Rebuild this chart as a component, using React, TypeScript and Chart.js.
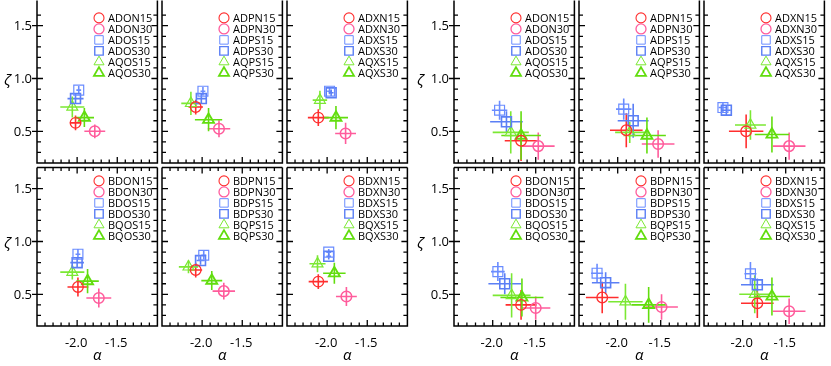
import React, { useEffect, useRef } from 'react';
import { Chart, registerables } from 'chart.js';
import { drawPoint } from 'chart.js/helpers';

Chart.register(...registerables);

// ---------------- data ----------------
const ALPHA_RANGE_LEFT = [-2.5, -1.0];
const ALPHA_RANGE_RIGHT = [-2.45, -1.05];
const ZETA_RANGE = [0.2, 1.7];
const ALPHA_TICK_LABELS = [-2.0, -1.5];
const ZETA_TICK_LABELS = [0.5, 1.0, 1.5];
const ALPHA_TITLE = 'α';
const ZETA_TITLE = 'ζ';

const LABELS_ADO = ['ADON15', 'ADON30', 'ADOS15', 'ADOS30', 'AQOS15', 'AQOS30'];
const LABELS_ADP = ['ADPN15', 'ADPN30', 'ADPS15', 'ADPS30', 'AQPS15', 'AQPS30'];
const LABELS_ADX = ['ADXN15', 'ADXN30', 'ADXS15', 'ADXS30', 'AQXS15', 'AQXS30'];
const LABELS_BDO = ['BDON15', 'BDON30', 'BDOS15', 'BDOS30', 'BQOS15', 'BQOS30'];
const LABELS_BDP = ['BDPN15', 'BDPN30', 'BDPS15', 'BDPS30', 'BQPS15', 'BQPS30'];
const LABELS_BDX = ['BDXN15', 'BDXN30', 'BDXS15', 'BDXS30', 'BQXS15', 'BQXS30'];

// left group
const L_ADO_ALPHA = [-2.02, -1.78, -1.98, -2.02, -2.06, -1.91];
const L_ADO_ZETA = [0.58, 0.5, 0.89, 0.81, 0.73, 0.63];
const L_ADO_ALPHA_ERR = [0.07, 0.13, 0.03, 0.1, 0.15, 0.12];
const L_ADO_ZETA_ERR = [0.07, 0.065, 0.04, 0.05, 0.1, 0.09];

const L_ADP_ALPHA = [-2.08, -1.79, -1.99, -2.01, -2.14, -1.92];
const L_ADP_ZETA = [0.73, 0.525, 0.88, 0.81, 0.765, 0.61];
const L_ADP_ALPHA_ERR = [0.09, 0.14, 0.03, 0.06, 0.12, 0.17];
const L_ADP_ZETA_ERR = [0.07, 0.08, 0.04, 0.05, 0.11, 0.11];

const L_ADX_ALPHA = [-2.11, -1.77, -1.97, -1.95, -2.09, -1.89];
const L_ADX_ZETA = [0.63, 0.48, 0.88, 0.865, 0.795, 0.63];
const L_ADX_ALPHA_ERR = [0.13, 0.13, 0.03, 0.03, 0.09, 0.15];
const L_ADX_ZETA_ERR = [0.08, 0.1, 0.03, 0.03, 0.09, 0.11];

const L_BDO_ALPHA = [-1.99, -1.73, -1.99, -2.0, -2.06, -1.87];
const L_BDO_ZETA = [0.57, 0.465, 0.88, 0.8, 0.71, 0.625];
const L_BDO_ALPHA_ERR = [0.13, 0.155, 0.03, 0.085, 0.15, 0.14];
const L_BDO_ZETA_ERR = [0.09, 0.09, 0.05, 0.05, 0.07, 0.115];

const L_BDP_ALPHA = [-2.08, -1.73, -1.98, -2.02, -2.17, -1.88];
const L_BDP_ZETA = [0.73, 0.53, 0.87, 0.82, 0.76, 0.63];
const L_BDP_ALPHA_ERR = [0.08, 0.14, 0.03, 0.05, 0.12, 0.13];
const L_BDP_ZETA_ERR = [0.07, 0.08, 0.04, 0.04, 0.06, 0.09];

const L_BDX_ALPHA = [-2.11, -1.76, -1.98, -1.98, -2.12, -1.91];
const L_BDX_ZETA = [0.62, 0.48, 0.9, 0.86, 0.79, 0.7];
const L_BDX_ALPHA_ERR = [0.12, 0.13, 0.03, 0.03, 0.1, 0.14];
const L_BDX_ZETA_ERR = [0.07, 0.09, 0.03, 0.03, 0.08, 0.1];

// right group
const R_ADO_ALPHA = [-1.67, -1.47, -1.92, -1.84, -1.79, -1.67];
const R_ADO_ZETA = [0.41, 0.36, 0.7, 0.59, 0.49, 0.46];
const R_ADO_ALPHA_ERR = [0.19, 0.19, 0.09, 0.19, 0.21, 0.23];
const R_ADO_ZETA_ERR = [0.19, 0.13, 0.09, 0.1, 0.2, 0.23];

const R_ADP_ALPHA = [-1.9, -1.53, -1.93, -1.82, -1.86, -1.66];
const R_ADP_ZETA = [0.51, 0.38, 0.71, 0.6, 0.49, 0.46];
const R_ADP_ALPHA_ERR = [0.19, 0.19, 0.09, 0.18, 0.17, 0.22];
const R_ADP_ZETA_ERR = [0.16, 0.13, 0.1, 0.16, 0.1, 0.17];

const R_ADX_ALPHA = [-1.96, -1.46, -2.23, -2.19, -1.91, -1.66];
const R_ADX_ZETA = [0.5, 0.36, 0.725, 0.7, 0.56, 0.47];
const R_ADX_ALPHA_ERR = [0.2, 0.19, 0.05, 0.05, 0.18, 0.2];
const R_ADX_ZETA_ERR = [0.16, 0.13, 0.05, 0.05, 0.14, 0.17];

const R_BDO_ALPHA = [-1.67, -1.5, -1.94, -1.86, -1.78, -1.66];
const R_BDO_ZETA = [0.4, 0.37, 0.715, 0.6, 0.49, 0.47];
const R_BDO_ALPHA_ERR = [0.18, 0.17, 0.08, 0.19, 0.22, 0.25];
const R_BDO_ZETA_ERR = [0.14, 0.11, 0.09, 0.1, 0.21, 0.18];

const R_BDP_ALPHA = [-2.18, -1.49, -2.24, -2.14, -1.91, -1.64];
const R_BDP_ZETA = [0.47, 0.38, 0.7, 0.61, 0.43, 0.4];
const R_BDP_ALPHA_ERR = [0.19, 0.19, 0.07, 0.16, 0.2, 0.2];
const R_BDP_ZETA_ERR = [0.15, 0.12, 0.09, 0.1, 0.17, 0.17];

const R_BDX_ALPHA = [-1.83, -1.46, -1.91, -1.83, -1.86, -1.66];
const R_BDX_ZETA = [0.415, 0.34, 0.695, 0.59, 0.5, 0.48];
const R_BDX_ALPHA_ERR = [0.19, 0.19, 0.07, 0.19, 0.18, 0.21];
const R_BDX_ZETA_ERR = [0.14, 0.12, 0.11, 0.06, 0.18, 0.18];

// ---------------- styles ----------------
const FONT = '"Open Sans", "DejaVu Sans", sans-serif';
const SERIES_COLOR = ['#ff2e2e', '#ff5c9c', '#6a8cff', '#5b7ff5', '#7be833', '#62dd0e'];
const SERIES_SHAPE = ['circle', 'circle', 'rect', 'rect', 'triangle', 'triangle'];
const SERIES_LINE = [1.3, 1.5, 1.2, 1.6, 1.2, 1.9];
const LEGEND_LINE = [1.1, 1.3, 1.0, 1.4, 1.0, 1.8];
const POINT_RADIUS: Record<string, number> = { circle: 5.3, rect: 7, triangle: 6.3 };
const LEGEND_RADIUS: Record<string, number> = { circle: 5, rect: 6, triangle: 5.8 };

const GROUP_LEFT = [37, 454];
const ROW_TOP = [0, 163];
const PANEL_W = 125;
const PANEL_H = 163;
const ML = 40, MR = 4, MT = 4, MB = 40;

type PanelSpec = {
  group: number; row: number; col: number;
  labels: string[]; alpha: number[]; zeta: number[]; alphaErr: number[]; zetaErr: number[];
};

const PANELS: PanelSpec[] = [
  { group: 0, row: 0, col: 0, labels: LABELS_ADO, alpha: L_ADO_ALPHA, zeta: L_ADO_ZETA, alphaErr: L_ADO_ALPHA_ERR, zetaErr: L_ADO_ZETA_ERR },
  { group: 0, row: 0, col: 1, labels: LABELS_ADP, alpha: L_ADP_ALPHA, zeta: L_ADP_ZETA, alphaErr: L_ADP_ALPHA_ERR, zetaErr: L_ADP_ZETA_ERR },
  { group: 0, row: 0, col: 2, labels: LABELS_ADX, alpha: L_ADX_ALPHA, zeta: L_ADX_ZETA, alphaErr: L_ADX_ALPHA_ERR, zetaErr: L_ADX_ZETA_ERR },
  { group: 0, row: 1, col: 0, labels: LABELS_BDO, alpha: L_BDO_ALPHA, zeta: L_BDO_ZETA, alphaErr: L_BDO_ALPHA_ERR, zetaErr: L_BDO_ZETA_ERR },
  { group: 0, row: 1, col: 1, labels: LABELS_BDP, alpha: L_BDP_ALPHA, zeta: L_BDP_ZETA, alphaErr: L_BDP_ALPHA_ERR, zetaErr: L_BDP_ZETA_ERR },
  { group: 0, row: 1, col: 2, labels: LABELS_BDX, alpha: L_BDX_ALPHA, zeta: L_BDX_ZETA, alphaErr: L_BDX_ALPHA_ERR, zetaErr: L_BDX_ZETA_ERR },
  { group: 1, row: 0, col: 0, labels: LABELS_ADO, alpha: R_ADO_ALPHA, zeta: R_ADO_ZETA, alphaErr: R_ADO_ALPHA_ERR, zetaErr: R_ADO_ZETA_ERR },
  { group: 1, row: 0, col: 1, labels: LABELS_ADP, alpha: R_ADP_ALPHA, zeta: R_ADP_ZETA, alphaErr: R_ADP_ALPHA_ERR, zetaErr: R_ADP_ZETA_ERR },
  { group: 1, row: 0, col: 2, labels: LABELS_ADX, alpha: R_ADX_ALPHA, zeta: R_ADX_ZETA, alphaErr: R_ADX_ALPHA_ERR, zetaErr: R_ADX_ZETA_ERR },
  { group: 1, row: 1, col: 0, labels: LABELS_BDO, alpha: R_BDO_ALPHA, zeta: R_BDO_ZETA, alphaErr: R_BDO_ALPHA_ERR, zetaErr: R_BDO_ZETA_ERR },
  { group: 1, row: 1, col: 1, labels: LABELS_BDP, alpha: R_BDP_ALPHA, zeta: R_BDP_ZETA, alphaErr: R_BDP_ALPHA_ERR, zetaErr: R_BDP_ZETA_ERR },
  { group: 1, row: 1, col: 2, labels: LABELS_BDX, alpha: R_BDX_ALPHA, zeta: R_BDX_ZETA, alphaErr: R_BDX_ALPHA_ERR, zetaErr: R_BDX_ZETA_ERR },
];

function stepTicks(min: number, max: number, step: number): number[] {
  const out: number[] = [];
  const start = Math.ceil(min / step - 1e-9);
  const end = Math.floor(max / step + 1e-9);
  for (let k = start; k <= end; k++) out.push(Math.round(k * step * 1000) / 1000);
  return out;
}
const isMajor = (v: number) => Math.abs(v * 2 - Math.round(v * 2)) < 1e-6;

function makeDecor(spec: PanelSpec) {
  return {
    id: 'panelDecor',
    beforeDatasetsDraw(chart: any) {
      const { ctx, chartArea: a, scales } = chart;
      ctx.save();
      ctx.beginPath();
      ctx.rect(a.left, a.top, a.right - a.left, a.bottom - a.top);
      ctx.clip();
      ctx.lineWidth = 1.6;
      chart.data.datasets.forEach((ds: any, i: number) => {
        const p = ds.data[0];
        const cx = scales.x.getPixelForValue(p.x);
        const cy = scales.y.getPixelForValue(p.y);
        const x0 = scales.x.getPixelForValue(p.x - ds.errX);
        const x1 = scales.x.getPixelForValue(p.x + ds.errX);
        const y0 = scales.y.getPixelForValue(p.y - ds.errY);
        const y1 = scales.y.getPixelForValue(p.y + ds.errY);
        ctx.strokeStyle = SERIES_COLOR[i];
        ctx.beginPath();
        ctx.moveTo(x0, cy); ctx.lineTo(x1, cy);
        ctx.moveTo(cx, y0); ctx.lineTo(cx, y1);
        ctx.stroke();
      });
      ctx.restore();
    },
    afterDraw(chart: any) {
      const { ctx, chartArea: a, scales } = chart;
      const xs = scales.x, ys = scales.y;
      ctx.save();
      ctx.strokeStyle = '#000';
      ctx.lineWidth = 1.5;
      ctx.lineCap = 'butt';
      // frame
      ctx.beginPath();
      ctx.moveTo(a.left, a.top - (spec.row === 0 ? 4 : 0));
      ctx.lineTo(a.left, a.bottom);
      ctx.lineTo(a.right, a.bottom);
      ctx.lineTo(a.right, a.top - (spec.row === 0 ? 4 : 0));
      if (spec.row === 1) { ctx.moveTo(a.left, a.top); ctx.lineTo(a.right, a.top); }
      ctx.stroke();
      // ticks
      ctx.lineWidth = 1.3;
      ctx.beginPath();
      xs.ticks.forEach((t: any) => {
        const px = xs.getPixelForValue(t.value);
        if (px <= a.left + 1 || px >= a.right - 1) return;
        const len = isMajor(t.value) ? 6 : 3.5;
        ctx.moveTo(px, a.bottom); ctx.lineTo(px, a.bottom - len);
        if (spec.row === 1) { ctx.moveTo(px, a.top); ctx.lineTo(px, a.top + len); }
      });
      ys.ticks.forEach((t: any) => {
        const py = ys.getPixelForValue(t.value);
        if (py <= a.top + 1 || py >= a.bottom - 1) return;
        const major = isMajor(t.value);
        const len = major ? 6 : 4;
        ctx.moveTo(a.left - (major && spec.col === 0 ? 5 : 0), py); ctx.lineTo(a.left + len, py);
        ctx.moveTo(a.right, py); ctx.lineTo(a.right - len, py);
      });
      ctx.stroke();

      ctx.fillStyle = '#000';
      ctx.font = `13px ${FONT}`;
      if (spec.col === 0) {
        ctx.textAlign = 'right';
        ctx.textBaseline = 'middle';
        ZETA_TICK_LABELS.forEach((v) => {
          ctx.fillText(v.toFixed(1), a.left - 5, ys.getPixelForValue(v) + 0.5);
        });
        ctx.font = `italic 15px ${FONT}`;
        ctx.textAlign = 'center';
        ctx.fillText(ZETA_TITLE, a.left - (spec.group === 0 ? 29.5 : 33.5), a.top + 76);
      }
      if (spec.row === 1) {
        ctx.font = `13px ${FONT}`;
        ctx.textAlign = 'center';
        ctx.textBaseline = 'middle';
        ALPHA_TICK_LABELS.forEach((v) => {
          ctx.fillText(v.toFixed(1), xs.getPixelForValue(v) - 1, a.bottom + 17);
        });
        ctx.font = `italic 15px ${FONT}`;
        ctx.fillText(ALPHA_TITLE, (a.left + a.right) / 2, a.bottom + 30);
      }
      // legend
      ctx.font = `11px ${FONT}`;
      ctx.textAlign = 'left';
      ctx.textBaseline = 'middle';
      chart.data.datasets.forEach((ds: any, i: number) => {
        const y = a.top + 13.3 + 11 * i;
        ctx.strokeStyle = SERIES_COLOR[i];
        ctx.fillStyle = 'rgba(0,0,0,0)';
        ctx.lineWidth = LEGEND_LINE[i];
        drawPoint(ctx, { pointStyle: SERIES_SHAPE[i], radius: LEGEND_RADIUS[SERIES_SHAPE[i]], rotation: 0, borderWidth: LEGEND_LINE[i] } as any, a.left + 62, y);
        ctx.fillStyle = '#000';
        ctx.fillText(ds.label, a.left + 71, y + 0.5);
      });
      ctx.restore();
    },
  };
}

function Panel({ spec }: { spec: PanelSpec }) {
  const ref = useRef<HTMLCanvasElement | null>(null);
  const left = GROUP_LEFT[spec.group] + spec.col * PANEL_W;
  const top = ROW_TOP[spec.row];
  const cw = PANEL_W + ML + MR;
  const ch = PANEL_H + MT + MB;
  useEffect(() => {
    const xr = spec.group === 0 ? ALPHA_RANGE_LEFT : ALPHA_RANGE_RIGHT;
    const chart = new Chart(ref.current as HTMLCanvasElement, {
      type: 'scatter',
      data: {
        datasets: spec.labels.map((label, i) => ({
          label,
          data: [{ x: spec.alpha[i], y: spec.zeta[i] }],
          errX: spec.alphaErr[i],
          errY: spec.zetaErr[i],
          borderColor: SERIES_COLOR[i],
          backgroundColor: 'rgba(0,0,0,0)',
          pointStyle: SERIES_SHAPE[i],
          pointRadius: POINT_RADIUS[SERIES_SHAPE[i]],
          pointBorderWidth: SERIES_LINE[i],
          showLine: false,
        })) as any,
      },
      options: {
        responsive: false,
        animation: false,
        events: [],
        layout: { padding: { left: ML, right: MR, top: MT, bottom: MB } },
        plugins: { legend: { display: false }, tooltip: { enabled: false } },
        scales: {
          x: {
            type: 'linear', min: xr[0], max: xr[1],
            ticks: { display: false },
            grid: { display: false, drawTicks: false },
            border: { display: false },
            afterBuildTicks: (s: any) => { s.ticks = stepTicks(xr[0], xr[1], 0.1).map((value) => ({ value })); },
          },
          y: {
            type: 'linear', min: ZETA_RANGE[0], max: ZETA_RANGE[1],
            ticks: { display: false },
            grid: { display: false, drawTicks: false },
            border: { display: false },
            afterBuildTicks: (s: any) => { s.ticks = stepTicks(ZETA_RANGE[0], ZETA_RANGE[1], 0.1).map((value) => ({ value })); },
          },
        },
      } as any,
      plugins: [makeDecor(spec)],
    });
    return () => chart.destroy();
  }, []);
  return (
    <canvas
      ref={ref}
      width={cw}
      height={ch}
      style={{ position: 'absolute', left: left - ML, top: top - MT, width: cw, height: ch }}
    />
  );
}

export default function App() {
  return (
    <div style={{ position: 'absolute', left: 0, top: 0, width: 831, height: 366, overflow: 'hidden', background: '#fff' }}>
      {PANELS.map((p, i) => <Panel key={i} spec={p} />)}
    </div>
  );
}
